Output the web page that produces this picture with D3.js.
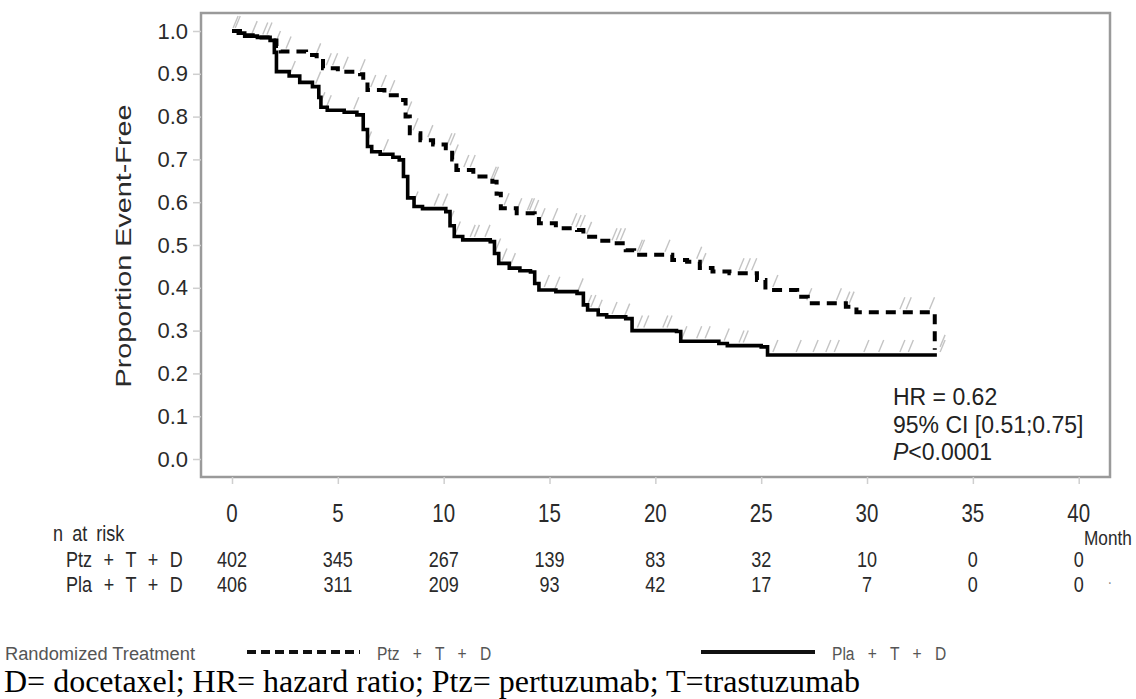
<!DOCTYPE html>
<html><head><meta charset="utf-8">
<script src="https://cdn.jsdelivr.net/npm/d3@7"></script>
<style>body{margin:0;background:#fff}svg{display:block}</style>
</head><body><svg id="c" width="1136" height="699"></svg>
<script>
// ---------- data ----------
const xTicks = [0, 5, 10, 15, 20, 25, 30, 35, 40];
const yTicks = [0.0, 0.1, 0.2, 0.3, 0.4, 0.5, 0.6, 0.7, 0.8, 0.9, 1.0];
const groupNames = ["Ptz + T + D", "Pla + T + D"];
const atRiskPtz = [402, 345, 267, 139, 83, 32, 10, 0, 0];
const atRiskPla = [406, 311, 209, 93, 42, 17, 7, 0, 0];

const ptzTimes = [0, 0.5, 1.2, 1.8, 2.1, 2.3, 3.5, 4.0, 4.3, 5.0, 6.05, 6.2, 6.4, 7.2, 7.9, 8.2, 8.4, 8.9, 9.5, 10.1, 10.4, 10.6, 11.4, 12.3, 12.5, 12.7, 13.45, 14.3, 14.5, 15.3, 16.3, 16.6, 17.3, 18.0, 18.6, 19.0, 20.8, 21.5, 22.1, 22.7, 23.5, 24.8, 25.2, 26.7, 27.2, 29.0, 29.5, 33.2];
const ptzSurv  = [1.0, 0.99, 0.985, 0.978, 0.965, 0.952, 0.944, 0.936, 0.913, 0.905, 0.899, 0.88, 0.862, 0.85, 0.839, 0.80, 0.761, 0.745, 0.735, 0.726, 0.70, 0.675, 0.66, 0.648, 0.62, 0.586, 0.574, 0.57, 0.551, 0.539, 0.535, 0.519, 0.51, 0.504, 0.488, 0.477, 0.465, 0.461, 0.446, 0.438, 0.434, 0.418, 0.395, 0.379, 0.364, 0.356, 0.343, 0.255];

const plaTimes = [0, 0.3, 0.6, 1.2, 1.8, 2.0, 2.1, 2.7, 3.2, 3.8, 4.1, 4.2, 4.5, 5.3, 5.9, 6.2, 6.4, 6.6, 7.0, 7.6, 7.9, 8.1, 8.3, 8.6, 9.0, 10.1, 10.3, 10.5, 10.9, 12.2, 12.4, 12.6, 13.1, 13.6, 14.1, 14.3, 14.5, 15.3, 16.3, 16.6, 16.8, 17.3, 17.7, 18.6, 18.9, 21.0, 21.2, 23.0, 23.4, 25.0, 25.3, 33.3];
const plaSurv  = [1.0, 0.995, 0.988, 0.985, 0.978, 0.95, 0.905, 0.895, 0.88, 0.87, 0.845, 0.822, 0.815, 0.81, 0.804, 0.77, 0.73, 0.718, 0.712, 0.705, 0.699, 0.66, 0.61, 0.59, 0.585, 0.578, 0.545, 0.52, 0.512, 0.508, 0.48, 0.457, 0.446, 0.44, 0.437, 0.41, 0.395, 0.391, 0.387, 0.36, 0.348, 0.337, 0.332, 0.328, 0.30, 0.298, 0.275, 0.27, 0.265, 0.262, 0.243, 0.243];

const ptzCensor = [0.1, 1.5, 1.7, 2.1, 2.6, 4.0, 4.5, 4.8, 5.3, 6.1, 6.6, 7.1, 7.5, 8.3, 8.6, 9.3, 10.2, 10.35, 10.5, 11.0, 11.3, 12.3, 12.4, 12.9, 13.5, 14.0, 14.1, 14.3, 14.6, 15.2, 16.1, 16.3, 16.5, 16.8, 18.0, 18.2, 18.4, 19.2, 19.3, 20.5, 22.0, 22.2, 24.0, 24.3, 24.6, 25.6, 27.2, 28.6, 29.0, 29.2, 31.6, 31.9, 33.0, 33.5];
const plaCensor = [0.2, 1.0, 2.8, 4.0, 4.2, 4.5, 5.8, 6.4, 7.2, 8.6, 9.6, 10.0, 10.3, 10.6, 11.3, 11.5, 12.0, 12.5, 12.8, 13.2, 14.8, 15.3, 16.4, 16.8, 17.0, 17.3, 18.0, 18.6, 19.2, 19.5, 20.4, 20.6, 21.3, 22.0, 22.4, 23.3, 24.0, 24.2, 25.6, 26.7, 27.5, 28.1, 28.5, 29.9, 30.6, 31.6, 32.0, 33.5];

const statsLines = ["HR = 0.62", "95% CI [0.51;0.75]", "<0.0001"];
const yTitle = "Proportion Event-Free";
const xUnit = "Month";
const atRiskTitle = "n at risk";
const legendTitle = "Randomized Treatment";
const footnote = "D= docetaxel; HR= hazard ratio; Ptz= pertuzumab; T=trastuzumab";

// ---------- fonts ----------
const narrowAvail = (() => {
  const c = document.createElement('canvas').getContext('2d');
  c.font = '20px monospace'; const a = c.measureText('Randomized 0123').width;
  c.font = '20px "Liberation Sans Narrow", monospace'; const b = c.measureText('Randomized 0123').width;
  return Math.abs(a - b) > 0.5;
})();
const NARROW = narrowAvail ? '"Liberation Sans Narrow", sans-serif' : '"Liberation Sans", Arial, sans-serif';
const NSX = narrowAvail ? 1 : 0.82;
const SANS = '"Liberation Sans", Arial, sans-serif';
const SERIF = '"Liberation Serif", "Times New Roman", serif';

const svg = d3.select('#c');

// ---------- scales ----------
const x = d3.scaleLinear().domain([0, 40]).range([232, 1078.7]);
const y = d3.scaleLinear().domain([0, 1]).range([459, 31]);
const frame = {l: 201, t: 13, r: 1110, b: 477};

svg.append('rect').attr('x', frame.l).attr('y', frame.t)
  .attr('width', frame.r - frame.l).attr('height', frame.b - frame.t)
  .attr('fill', 'none').attr('stroke', '#9a9a9a').attr('stroke-width', 2.5);

const yAxis = d3.axisLeft(y).tickValues(yTicks).tickFormat(d3.format('.1f')).tickSize(8).tickPadding(5);
const gy = svg.append('g').attr('transform', `translate(${frame.l},0)`).call(yAxis);
gy.select('.domain').remove();
gy.selectAll('.tick line').attr('stroke', '#cfcfcf').attr('stroke-width', 1.5);
gy.selectAll('.tick text').attr('font-family', SANS).attr('font-size', 22).attr('fill', '#2a2a2a');

const xAxis = d3.axisBottom(x).tickValues(xTicks).tickSize(7).tickFormat('');
const gx = svg.append('g').attr('transform', `translate(0,${frame.b})`).call(xAxis);
gx.select('.domain').remove();
gx.selectAll('.tick line').attr('stroke', '#cfcfcf').attr('stroke-width', 1.5);

function ntext(g, px, py, str, size, anchor, fill) {
  return g.append('text')
    .attr('transform', `translate(${px},${py}) scale(${NSX},1)`)
    .attr('font-family', NARROW).attr('font-size', size)
    .attr('text-anchor', anchor).attr('fill', fill).text(str);
}

xTicks.forEach(v => ntext(svg, x(v), 522, String(v), 25, 'middle', '#2a2a2a'));
ntext(svg, 1084, 545, xUnit, 21, 'start', '#2a2a2a');

svg.append('text')
  .attr('transform', `translate(131,246) rotate(-90)`)
  .attr('font-family', SANS).attr('font-size', 22).attr('text-anchor', 'middle')
  .attr('textLength', 283).attr('lengthAdjust', 'spacingAndGlyphs')
  .attr('fill', '#2a2a2a').text(yTitle);

// ---------- curves ----------
const ptzData = ptzTimes.map((t, i) => [t, ptzSurv[i]]);
const plaData = plaTimes.map((t, i) => [t, plaSurv[i]]);
const line = d3.line().x(d => x(d[0])).y(d => y(d[1])).curve(d3.curveStepAfter);

function survAt(times, surv, t) {
  const i = Math.max(0, d3.bisectRight(times, t) - 1);
  return surv[i];
}
function censorTicks(list, times, surv) {
  svg.append('g').selectAll('line').data(list).join('line')
    .attr('x1', d => x(d) - 1).attr('y1', d => y(survAt(times, surv, d)) - 3)
    .attr('x2', d => x(d) + 4).attr('y2', d => y(survAt(times, surv, d)) - 15)
    .attr('stroke', '#c4c4c4').attr('stroke-width', 1.4);
}
censorTicks(ptzCensor, ptzTimes, ptzSurv);
censorTicks(plaCensor, plaTimes, plaSurv);

svg.append('path').datum(plaData).attr('d', line)
  .attr('fill', 'none').attr('stroke', '#000').attr('stroke-width', 3.6);
svg.append('path').datum(ptzData).attr('d', line)
  .attr('fill', 'none').attr('stroke', '#000').attr('stroke-width', 4)
  .attr('stroke-dasharray', '10,7');

// ---------- stats ----------
const st = svg.append('text').attr('font-family', SANS).attr('font-size', 23).attr('fill', '#222');
st.append('tspan').attr('x', 893).attr('y', 405).text(statsLines[0]);
st.append('tspan').attr('x', 893).attr('y', 433).text(statsLines[1]);
const l3 = st.append('tspan').attr('x', 893).attr('y', 460);
l3.append('tspan').attr('font-style', 'italic').text('P');
l3.append('tspan').text(statsLines[2]);

// ---------- at risk table ----------
ntext(svg, 53, 541, atRiskTitle, 22, 'start', '#2a2a2a').attr('word-spacing', 5);
ntext(svg, 66, 567, groupNames[0], 22, 'start', '#2a2a2a').attr('word-spacing', 8);
ntext(svg, 66, 592, groupNames[1], 22, 'start', '#2a2a2a').attr('word-spacing', 8);
atRiskPtz.forEach((v, i) => ntext(svg, x(xTicks[i]), 567, String(v), 22, 'middle', '#2a2a2a'));
atRiskPla.forEach((v, i) => ntext(svg, x(xTicks[i]), 592, String(v), 22, 'middle', '#2a2a2a'));
ntext(svg, 1108, 584, '.', 16, 'start', '#888');

// ---------- legend ----------
svg.append('text').attr('x', 5).attr('y', 660)
  .attr('font-family', SANS).attr('font-size', 18).attr('fill', '#555')
  .attr('textLength', 190).attr('lengthAdjust', 'spacingAndGlyphs').text(legendTitle);
svg.append('line').attr('x1', 247).attr('x2', 360).attr('y1', 652).attr('y2', 652)
  .attr('stroke', '#111').attr('stroke-width', 4).attr('stroke-dasharray', '9,5');
ntext(svg, 377, 659.5, groupNames[0], 19, 'start', '#555').attr('word-spacing', 11);
svg.append('line').attr('x1', 701).attr('x2', 815).attr('y1', 652).attr('y2', 652)
  .attr('stroke', '#111').attr('stroke-width', 4);
ntext(svg, 832, 659.5, groupNames[1], 19, 'start', '#555').attr('word-spacing', 11);

// ---------- footnote ----------
svg.append('text').attr('x', 4).attr('y', 692)
  .attr('font-family', SERIF).attr('font-size', 31).attr('fill', '#000')
  .attr('textLength', 856).attr('lengthAdjust', 'spacingAndGlyphs').text(footnote);
</script>
</body></html>
